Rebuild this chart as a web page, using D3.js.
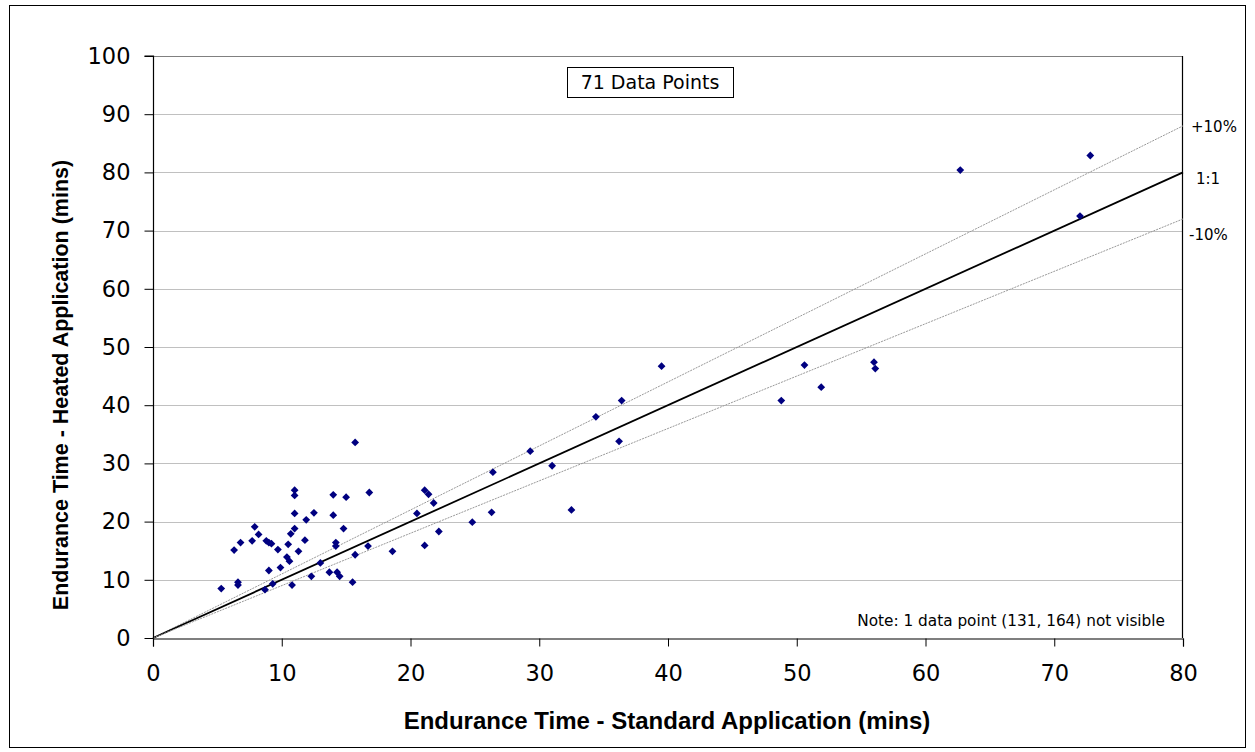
<!DOCTYPE html>
<html>
<head>
<meta charset="utf-8">
<script src="https://cdn.jsdelivr.net/npm/d3@7/dist/d3.min.js"></script>
<style>
  html, body { margin: 0; padding: 0; background: #fff; }
  svg { display: block; }
</style>
</head>
<body>
<svg id="chart" width="1255" height="752"></svg>
<script>
// Endurance times (mins): standard application (x) vs heated application (y)
const standardTimes = [
  15.7, 11.0, 11.0, 14.0, 15.0, 16.8, 11.0, 12.5, 11.9, 14.0,
  7.9, 8.2, 7.7, 6.8, 6.3, 8.8, 9.0, 9.2, 9.7, 11.0,
  10.7, 10.5, 11.8, 11.3, 14.8, 14.2, 14.2, 10.4, 10.6, 9.0,
  9.9, 13.0, 13.7, 14.3, 14.5, 12.3, 15.5, 10.8, 9.3, 8.7,
  6.6, 6.6, 5.3, 15.7, 16.7, 18.6, 21.1, 22.2, 20.5, 21.1,
  21.4, 21.8, 24.8, 26.3, 26.4, 29.3, 31.0, 32.5, 34.4, 36.4,
  36.2, 39.5, 48.8, 50.6, 51.9, 56.0, 56.1, 62.7, 72.8, 72.0,
  131
];
const heatedTimes = [
  33.6, 25.4, 24.5, 24.6, 24.2, 25.0, 21.4, 21.5, 20.3, 21.1,
  19.1, 17.8, 16.7, 16.4, 15.1, 16.7, 16.4, 16.2, 15.2, 18.8,
  17.9, 16.1, 16.8, 14.9, 18.8, 16.4, 15.8, 13.9, 13.2, 11.6,
  12.1, 12.9, 11.3, 11.3, 10.6, 10.6, 9.6, 9.1, 9.3, 8.3,
  9.6, 9.1, 8.5, 14.3, 15.8, 14.9, 15.9, 18.3, 21.4, 25.4,
  24.7, 23.2, 19.9, 21.6, 28.5, 32.1, 29.6, 22.0, 38.0, 40.8,
  33.8, 46.7, 40.8, 46.9, 43.1, 47.4, 46.3, 80.4, 82.9, 72.5,
  164
];

// Reference lines through the origin: slope multipliers and their labels
const refLabels = ["+10%", "1:1", "-10%"];
const refSlopes = [1.1, 1.0, 0.9];

const xTicks = [0, 10, 20, 30, 40, 50, 60, 70, 80];
const yTicks = [0, 10, 20, 30, 40, 50, 60, 70, 80, 90, 100];

const xTitle = "Endurance Time - Standard Application (mins)";
const yTitle = "Endurance Time - Heated Application (mins)";
const countLabel = "71 Data Points";
const noteLabel = "Note: 1 data point (131, 164) not visible";

const svg = d3.select("#chart");
const plotL = 153, plotR = 1183, plotT = 56, plotB = 638;

const x = d3.scaleLinear().domain([0, 80]).range([plotL, plotR]);
const y = d3.scaleLinear().domain([0, 100]).range([plotB, plotT]);

const tickFont = "'DejaVu Sans', Verdana, sans-serif";
const titleFont = "'Liberation Sans', Arial, sans-serif";

// outer chart frame
svg.append("rect")
  .attr("x", 9.5).attr("y", 5.5)
  .attr("width", 1236).attr("height", 742)
  .attr("fill", "#fff").attr("stroke", "#000").attr("stroke-width", 1);

// horizontal gridlines
svg.append("g")
  .selectAll("line")
  .data(yTicks.filter(d => d > 0 && d < 100))
  .join("line")
  .attr("x1", plotL).attr("x2", plotR)
  .attr("y1", d => Math.round(y(d)) + 0.5).attr("y2", d => Math.round(y(d)) + 0.5)
  .attr("stroke", "#c0c0c0").attr("stroke-width", 1);

// plot area border: grey top, black right
svg.append("line")
  .attr("x1", plotL).attr("x2", plotR)
  .attr("y1", plotT + 0.5).attr("y2", plotT + 0.5)
  .attr("stroke", "#808080").attr("stroke-width", 1);
svg.append("line")
  .attr("x1", plotR - 0.5).attr("x2", plotR - 0.5)
  .attr("y1", plotT).attr("y2", plotB)
  .attr("stroke", "#000").attr("stroke-width", 1.2);

// reference lines
const lineGen = d3.line().x(d => x(d[0])).y(d => y(d[1]));
refSlopes.forEach(s => {
  svg.append("path")
    .attr("d", lineGen([[0, 0], [80, 80 * s]]))
    .attr("fill", "none")
    .attr("stroke", s === 1 ? "#000" : "#999")
    .attr("stroke-width", s === 1 ? 1.8 : 1)
    .attr("stroke-dasharray", s === 1 ? null : "2,1");
});

// reference line labels at the right edge
const refLabelY = [127, 179, 235];
const refLabelX = [1191, 1196, 1189];
svg.append("g")
  .selectAll("text")
  .data(refLabels)
  .join("text")
  .attr("x", (d, i) => refLabelX[i])
  .attr("y", (d, i) => refLabelY[i])
  .attr("dy", "0.36em")
  .attr("font-family", tickFont)
  .attr("font-size", 15)
  .attr("fill", "#000")
  .text(d => d);

// axes
const xAxis = d3.axisBottom(x).tickValues(xTicks).tickSize(8).tickPadding(19).tickFormat(d3.format("d"));
const yAxis = d3.axisLeft(y).tickValues(yTicks).tickSize(9).tickPadding(14).tickFormat(d3.format("d"));

const gx = svg.append("g").attr("transform", `translate(0,${plotB + 0.5})`).call(xAxis);
const gy = svg.append("g").attr("transform", `translate(${plotL + 0.5},0)`).call(yAxis);
[gx, gy].forEach(g => {
  g.select(".domain").attr("stroke", "#000").attr("stroke-width", 1.2);
  g.selectAll(".tick line").attr("stroke", "#000");
  g.selectAll(".tick text")
    .attr("font-family", tickFont)
    .attr("font-size", 22.5)
    .attr("fill", "#000");
});
gy.select(".domain").attr("d", `M-9,${plotT}H0V${plotB}`);

// data points (diamonds); points beyond the axes range are not drawn
const pts = standardTimes.map((v, i) => [v, heatedTimes[i]])
  .filter(d => d[0] <= 80 && d[1] <= 100);
const r = 3.9;
svg.append("g")
  .selectAll("path")
  .data(pts)
  .join("path")
  .attr("d", d => {
    const cx = x(d[0]), cy = y(d[1]);
    return `M${cx},${cy - r}L${cx + r},${cy}L${cx},${cy + r}L${cx - r},${cy}Z`;
  })
  .attr("fill", "#000080");

// point count box
const boxG = svg.append("g");
boxG.append("rect")
  .attr("x", 567.5).attr("y", 67.5).attr("width", 166).attr("height", 30)
  .attr("fill", "#fff").attr("stroke", "#000").attr("stroke-width", 1);
boxG.append("text")
  .attr("x", 650).attr("y", 82.5)
  .attr("dy", "0.36em")
  .attr("text-anchor", "middle")
  .attr("font-family", tickFont)
  .attr("font-size", 19)
  .text(countLabel);

// note about the off-scale point
svg.append("text")
  .attr("x", 1165).attr("y", 626)
  .attr("text-anchor", "end")
  .attr("font-family", tickFont)
  .attr("font-size", 15.3)
  .text(noteLabel);

// axis titles
svg.append("text")
  .attr("x", 667).attr("y", 720)
  .attr("dy", "0.36em")
  .attr("text-anchor", "middle")
  .attr("font-family", titleFont)
  .attr("font-weight", "bold")
  .attr("font-size", 24)
  .text(xTitle);
svg.append("text")
  .attr("transform", "translate(60,385) rotate(-90)")
  .attr("dy", "0.36em")
  .attr("text-anchor", "middle")
  .attr("font-family", titleFont)
  .attr("font-weight", "bold")
  .attr("font-size", 21.5)
  .text(yTitle);
</script>
</body>
</html>
